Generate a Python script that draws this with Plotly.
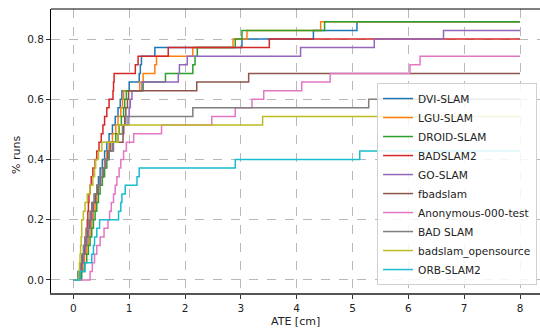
import plotly.graph_objects as go

N_RUNS = 35
X_MAX = 8.0

names = ["DVI-SLAM", "LGU-SLAM", "DROID-SLAM", "BADSLAM2", "GO-SLAM", "fbadslam",
         "Anonymous-000-test", "BAD SLAM", "badslam_opensource", "ORB-SLAM2"]
colors = ["#1f77b4", "#ff7f0e", "#2ca02c", "#d62728", "#9467bd", "#8c564b",
          "#e377c2", "#7f7f7f", "#bcbd22", "#17becf"]

# successful-run ATE values [cm], sorted (failed runs omitted)
ate_dvi = [0.10, 0.14, 0.18, 0.21, 0.24, 0.27, 0.30, 0.33, 0.36, 0.39, 0.42, 0.45, 0.48, 0.52,
           0.56, 0.60, 0.64, 0.70, 0.75, 0.80, 0.84, 0.87, 1.00, 1.18, 1.20, 1.22, 1.46, 3.02,
           4.30, 5.08]
ate_lgu = [0.14, 0.17, 0.20, 0.24, 0.27, 0.30, 0.33, 0.36, 0.39, 0.42, 0.45, 0.48, 0.52, 0.56,
           0.60, 0.64, 0.70, 0.76, 0.80, 0.85, 0.88, 0.90, 1.19, 1.25, 1.46, 1.49, 2.14, 2.86,
           3.11, 4.43]
ate_droid = [0.15, 0.20, 0.24, 0.27, 0.30, 0.33, 0.36, 0.39, 0.42, 0.45, 0.48, 0.52, 0.56, 0.60,
             0.64, 0.70, 0.76, 0.82, 0.86, 0.90, 0.92, 0.95, 1.25, 1.65, 2.14, 2.18, 2.22, 2.90,
             3.02, 4.50]
ate_badslam2 = [0.12, 0.15, 0.17, 0.19, 0.21, 0.23, 0.25, 0.26, 0.27, 0.28, 0.30, 0.32, 0.35,
                0.39, 0.42, 0.46, 0.50, 0.53, 0.56, 0.60, 0.64, 0.71, 0.72, 0.73, 1.11, 1.16,
                1.70, 3.51]
ate_go = [0.12, 0.15, 0.18, 0.21, 0.24, 0.27, 0.30, 0.33, 0.36, 0.40, 0.44, 0.49, 0.53, 0.57,
          0.62, 0.70, 0.80, 0.90, 0.98, 1.00, 1.02, 1.05, 1.23, 1.88, 1.90, 2.04, 4.07, 5.39, 6.63]
ate_fbad = [0.10, 0.13, 0.16, 0.19, 0.22, 0.25, 0.28, 0.31, 0.35, 0.39, 0.44, 0.48, 0.53, 0.58,
            0.62, 0.66, 0.89, 0.90, 0.92, 0.94, 0.97, 0.99, 2.21, 3.14]
ate_anon = [0.30, 0.34, 0.38, 0.42, 0.48, 0.55, 0.62, 0.65, 0.68, 0.72, 0.75, 0.78, 0.82, 0.85,
            0.90, 0.95, 1.08, 1.58, 2.48, 2.90, 3.20, 3.41, 4.09, 4.60, 6.03, 6.21]
ate_badslam = [0.08, 0.12, 0.15, 0.18, 0.21, 0.24, 0.27, 0.30, 0.33, 0.37, 0.42, 0.47, 0.52,
               0.58, 0.64, 0.72, 0.80, 0.88, 0.94, 2.14, 5.29]
ate_bados = [0.10, 0.11, 0.12, 0.13, 0.14, 0.15, 0.15, 0.18, 0.21, 0.25, 0.30, 0.35, 0.38, 0.40,
             0.45, 0.51, 0.80, 0.81, 3.39]
ate_orb = [0.12, 0.21, 0.33, 0.36, 0.38, 0.42, 0.47, 0.81, 0.85, 0.87, 0.93, 1.14, 1.18, 2.90,
           5.13]

series = [ate_dvi, ate_lgu, ate_droid, ate_badslam2, ate_go, ate_fbad, ate_anon,
          ate_badslam, ate_bados, ate_orb]

x_ticks = [0, 1, 2, 3, 4, 5, 6, 7, 8]
y_ticks = [0.0, 0.2, 0.4, 0.6, 0.8]
y_tick_text = ["0.0", "0.2", "0.4", "0.6", "0.8"]
x_title = "ATE [cm]"
y_title = "% runs"

FONT = "DejaVu Sans"

fig = go.Figure()
for name, col, ates in zip(names, colors, series):
    xs = [0.0] + list(ates) + [X_MAX]
    ys = [0.0] + [(k + 1) / N_RUNS for k in range(len(ates))] + [len(ates) / N_RUNS]
    fig.add_trace(go.Scatter(x=xs, y=ys, mode="lines", name=name,
                             line=dict(color=col, width=1.5, shape="hv")))

fig.update_layout(
    width=540, height=331,
    margin=dict(l=51, r=0, t=9, b=38, autoexpand=False),
    plot_bgcolor="white", paper_bgcolor="white",
    font=dict(family=FONT, size=10, color="#222222"),
    showlegend=True,
    legend=dict(
        x=0.994, y=0.028, xanchor="right", yanchor="bottom",
        bgcolor="rgba(255,255,255,0.85)", bordercolor="#d0d0d0", borderwidth=1,
        font=dict(family=FONT, size=10.6, color="#222222"),
        itemwidth=30, tracegroupgap=0,
    ),
    xaxis=dict(
        range=[-0.4, 8.358], tickvals=x_ticks, ticktext=[str(v) for v in x_ticks],
        showgrid=True, gridcolor="#b8b8b8", griddash="dash", gridwidth=1,
        zeroline=False, showline=True, linecolor="#555555", linewidth=2,
        ticks="outside", ticklen=4, tickcolor="#333333", automargin=False,
        tickfont=dict(family=FONT, size=10.5),
    ),
    yaxis=dict(
        range=[-0.0432, 0.8996], tickvals=y_ticks, ticktext=y_tick_text,
        showgrid=True, gridcolor="#b8b8b8", griddash="dash", gridwidth=1,
        zeroline=False, showline=True, linecolor="#000000", linewidth=1,
        ticks="outside", ticklen=4, tickcolor="#333333", automargin=False,
        tickfont=dict(family=FONT, size=10.5),
    ),
    shapes=[dict(type="line", xref="paper", yref="paper", x0=0, x1=1, y0=1, y1=1,
                 line=dict(color="#000000", width=1))],
    annotations=[
        dict(text=x_title, xref="paper", yref="paper", x=0.5, y=-0.102,
             xanchor="center", yanchor="middle", showarrow=False,
             font=dict(family=FONT, size=11, color="#222222")),
        dict(text=y_title, xref="paper", yref="paper", x=-0.0695, y=0.486,
             xanchor="center", yanchor="middle", showarrow=False, textangle=-90,
             font=dict(family=FONT, size=11, color="#222222")),
    ],
)

fig.write_html("out.html", config={"displayModeBar": False},
               post_script="document.body.style.margin='0px';")
